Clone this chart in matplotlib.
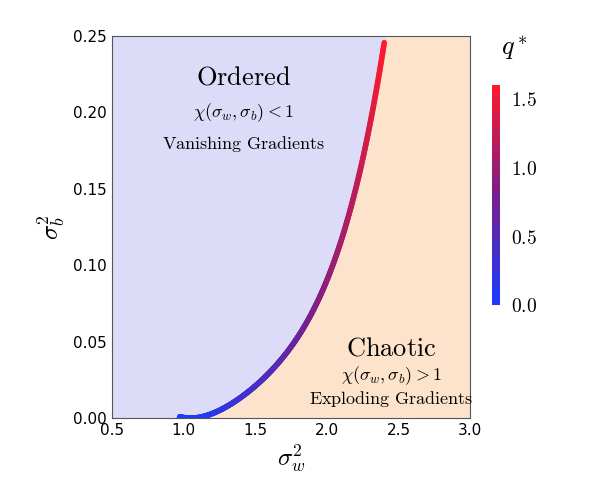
import numpy as np
import matplotlib.pyplot as plt
from matplotlib.collections import LineCollection
from matplotlib.colors import LinearSegmentedColormap, Normalize

plt.rcParams['mathtext.fontset'] = 'cm'

# boundary curve
sw2 = [0.97, 1.05, 1.15, 1.23, 1.35, 1.45, 1.59, 1.70, 1.83, 1.97, 2.11, 2.22, 2.30, 2.40]
sb2 = [0.000, 0.0003, 0.002, 0.005, 0.011, 0.017, 0.026, 0.039, 0.0576, 0.088, 0.123, 0.155, 0.185, 0.25]
qstar = [0.0, 0.03, 0.08, 0.15, 0.25, 0.33, 0.45, 0.58, 0.72, 0.9, 1.07, 1.22, 1.37, 1.6]

x = np.array(sw2)
y = np.array(sb2)
q = np.array(qstar)

cmap = LinearSegmentedColormap.from_list('br', ['#1a3cff', '#7a1f8a', '#ff1a2a'])
norm = Normalize(0, 1.6)

fig = plt.figure(figsize=(5.99, 5.0), dpi=100)
ax = fig.add_axes([0.187, 0.164, 0.598, 0.764])

# smooth the read points for drawing
xs = np.linspace(x[0], x[-1], 400)
coef = np.polyfit(x, y, 4)
ys = np.clip(np.polyval(coef, xs), 0, None)
ys[0] = 0
qs = np.interp(xs, x, q)

ax.fill_between([0.5, 3.0], 0, 0.25, color='#fde3cc')
ax.fill_betweenx(np.append(ys, 0.25), np.append(xs, x[-1]), 0.5, color='#dcdcf8')
ax.fill_between([0.5, x[0]], 0, 0.25, color='#dcdcf8')

pts = np.column_stack([xs, ys]).reshape(-1, 1, 2)
segs = np.concatenate([pts[:-1], pts[1:]], axis=1)
lc = LineCollection(segs, cmap=cmap, norm=norm, linewidth=4, capstyle='round')
lc.set_array(qs[:-1])
ax.add_collection(lc)

ax.set_xlim(0.5, 3.0)
ax.set_ylim(0, 0.25)
ax.set_xticks([0.5, 1.0, 1.5, 2.0, 2.5, 3.0])
ax.set_yticks([0, 0.05, 0.1, 0.15, 0.2, 0.25])
ax.set_yticklabels(['0.00', '0.05', '0.10', '0.15', '0.20', '0.25'])
ax.tick_params(labelsize=11, length=0)
for s in ax.spines.values():
    s.set_color('#555555')
ax.set_xlabel(r'$\sigma_w^2$', fontsize=18)
ax.set_ylabel(r'$\sigma_b^2$', fontsize=18)

ax.text(1.42, 0.218, r'$\mathrm{Ordered}$', fontsize=19, ha='center')
ax.text(1.42, 0.197, r'$\chi(\sigma_w,\sigma_b) < 1$', fontsize=13, ha='center')
ax.text(1.42, 0.176, r'$\mathrm{Vanishing\ Gradients}$', fontsize=13, ha='center')
ax.text(2.45, 0.041, r'$\mathrm{Chaotic}$', fontsize=19, ha='center')
ax.text(2.45, 0.025, r'$\chi(\sigma_w,\sigma_b) > 1$', fontsize=13, ha='center')
ax.text(2.45, 0.009, r'$\mathrm{Exploding\ Gradients}$', fontsize=13, ha='center')

cax = fig.add_axes([0.822, 0.39, 0.012, 0.44])
grad = np.linspace(0, 1.6, 200).reshape(-1, 1)
cax.imshow(grad, aspect='auto', cmap=cmap, norm=norm, origin='lower', extent=[0, 1, 0, 1.6])
cax.set_xticks([])
cax.yaxis.tick_right()
cax.set_yticks([0, 0.5, 1.0, 1.5])
cax.set_yticklabels([r'$0.0$', r'$0.5$', r'$1.0$', r'$1.5$'])
cax.tick_params(labelsize=14, length=0, pad=8)
for s in cax.spines.values():
    s.set_visible(False)
fig.text(0.858, 0.89, r'$q^*$', fontsize=19, ha='center')

fig.savefig('out.png', dpi=100)
